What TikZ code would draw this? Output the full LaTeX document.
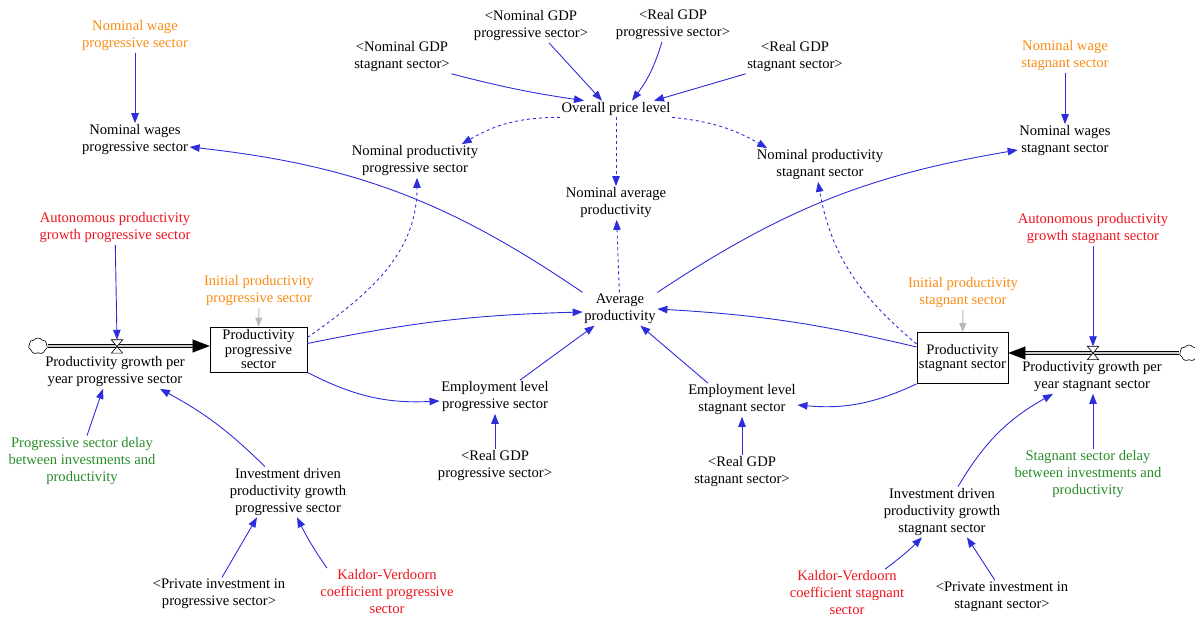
\documentclass[tikz,border=0pt]{standalone}
\usepackage{fontspec}
\setmainfont{Liberation Serif}
\usetikzlibrary{arrows.meta,shapes.symbols}
\definecolor{lnk}{RGB}{45,45,220}
\definecolor{orng}{RGB}{250,140,20}
\definecolor{rd}{RGB}{240,20,30}
\definecolor{grn}{RGB}{40,140,40}
\definecolor{gry}{RGB}{185,185,185}
\begin{document}
\begin{tikzpicture}[x=1pt,y=1pt,
  lbl/.style={align=center, inner sep=1.5pt, font=\fontsize{14.6}{17}\selectfont},
  stock/.style={draw, line width=0.8pt, fill=white, align=center, inner sep=1pt,
    font=\fontsize{14.6}{14.5}\selectfont},
  link/.style={draw=lnk, line width=0.9pt, -{Triangle[length=10pt,width=7.5pt]}, lnk},
  dlink/.style={link, dash pattern=on 3pt off 3pt},
  glink/.style={draw=gry, line width=1pt, -{Triangle[length=9pt,width=7pt]}, gry},
  pipe/.style={draw=black, line width=1.1pt, double=gray!40, double distance=2.6pt},
  flowhead/.style={black, line width=0.1pt, -{Triangle[length=17pt,width=13pt]}},
  cloudy/.style={cloud, draw, cloud puffs=7, cloud puff arc=110, aspect=1.2,
    minimum width=19pt, minimum height=16pt, inner sep=0pt, line width=0.6pt, fill=white},
  valve/.style={minimum width=11pt, minimum height=13pt, inner sep=0pt}
]
\useasboundingbox (0,0) rectangle (1195,-617);

% ---- auxiliary and constant variables ----
\node[lbl, text=orng] (nwageP) at (135,-36) {Nominal wage\\progressive sector};
\node[lbl] (nwagesP) at (135,-140) {Nominal wages\\progressive sector};
\node[lbl] (ngdpS) at (402,-57) {<Nominal GDP\\stagnant sector>};
\node[lbl] (ngdpP) at (531,-26) {<Nominal GDP\\progressive sector>};
\node[lbl] (rgdpP) at (673,-25) {<Real GDP\\progressive sector>};
\node[lbl] (rgdpS) at (795,-57) {<Real GDP\\stagnant sector>};
\node[lbl] (opl) at (616,-109) {Overall price level};
\node[lbl] (nprodP) at (415,-161) {Nominal productivity\\progressive sector};
\node[lbl] (navg) at (616,-203) {Nominal average\\productivity};
\node[lbl] (nprodS) at (820,-165) {Nominal productivity\\stagnant sector};
\node[lbl, text=orng] (nwageS) at (1065,-56) {Nominal wage\\stagnant sector};
\node[lbl] (nwagesS) at (1065,-141) {Nominal wages\\stagnant sector};
\node[lbl, text=rd] (autoP) at (115,-228) {Autonomous productivity\\growth progressive sector};
\node[lbl, text=rd] (autoS) at (1093,-229) {Autonomous productivity\\growth stagnant sector};
\node[lbl, text=orng] (initP) at (259,-291) {Initial productivity\\progressive sector};
\node[lbl, text=orng] (initS) at (963,-293) {Initial productivity\\stagnant sector};
\node[lbl] (avg) at (620,-309) {Average\\productivity};
\node[lbl] (rateP) at (115,-372) {Productivity growth per\\year progressive sector};
\node[lbl] (rateS) at (1092,-377) {Productivity growth per\\year stagnant sector};
\node[lbl] (empP) at (495,-397) {Employment level\\progressive sector};
\node[lbl] (empS) at (742,-400) {Employment level\\stagnant sector};
\node[lbl, text=grn] (delayP) at (82,-461) {Progressive sector delay\\between investments and\\productivity};
\node[lbl] (invP) at (288,-492) {Investment driven\\productivity growth\\progressive sector};
\node[lbl] (rgdpP2) at (495,-466) {<Real GDP\\progressive sector>};
\node[lbl] (rgdpS2) at (742,-472) {<Real GDP\\stagnant sector>};
\node[lbl, text=grn] (delayS) at (1088,-474) {Stagnant sector delay\\between investments and\\productivity};
\node[lbl] (invS) at (942,-512) {Investment driven\\productivity growth\\stagnant sector};
\node[lbl] (privP) at (219,-594) {<Private investment in\\progressive sector>};
\node[lbl, text=rd] (kvP) at (387,-592) {Kaldor-Verdoorn\\coefficient progressive\\sector};
\node[lbl, text=rd] (kvS) at (847,-593) {Kaldor-Verdoorn\\coefficient stagnant\\sector};
\node[lbl] (privS) at (1002,-597) {<Private investment in\\stagnant sector>};

% ---- stocks, sources and valves ----
\node[stock, minimum width=97pt, minimum height=45pt] (stockP) at (258.5,-349.5) {Productivity\\progressive\\sector};
\node[stock, minimum width=91pt, minimum height=51pt] (stockS) at (962.5,-358) {Productivity\\stagnant sector};
\node[cloudy] (cloudP) at (38,-346) {};
\node[cloudy] (cloudS) at (1189,-353) {};
\node[valve] (vP) at (117,-346.5) {};
\node[valve] (vS) at (1093,-353) {};

% flow pipes
\draw[pipe, shorten >=15pt] (cloudP.east) -- (cloudP.east -| stockP.west);
\draw[flowhead] ([xshift=-3pt]cloudP.east -| stockP.west) -- (cloudP.east -| stockP.west);
\draw[pipe, shorten >=15pt] (cloudS.west) -- (cloudS.west -| stockS.east);
\draw[flowhead] ([xshift=3pt]cloudS.west -| stockS.east) -- (cloudS.west -| stockS.east);
\foreach \v in {vP,vS}
  \draw[fill=white, line width=0.6pt] (\v.north west) -- (\v.north east) -- (\v.south west) -- (\v.south east) -- cycle;

% ---- information links ----
\draw[link] (nwageP) -- (nwagesP);
\draw[link] (nwageS) -- (nwagesS);
\draw[link] (ngdpS.south east) to[bend right=3] ([xshift=-32pt]opl.north);
\draw[link] ([xshift=18pt]ngdpP.south) -- ([xshift=-14pt]opl.north);
\draw[link] ([xshift=-11pt]rgdpP.south) to[bend left=10] ([xshift=16pt]opl.north);
\draw[link] (rgdpS.south west) -- ([xshift=38pt]opl.north);

\draw[dlink] (opl.south west) to[bend right=15] ([xshift=-18pt]nprodP.north east);
\draw[dlink] (opl) -- (navg);
\draw[dlink] (opl.south east) to[bend left=12] ([xshift=12pt]nprodS.north west);
\draw[dlink] (avg) -- (navg);

\draw[link] (avg.north west) to[bend right=14] ([yshift=-7pt]nwagesP.east);
\draw[link] (avg.north east) to[bend left=12] ([yshift=-9pt]nwagesS.west);

\draw[dlink] ([yshift=12pt]stockP.east) to[out=35, in=-90] ([xshift=2pt]nprodP.south);
\draw[dlink] ([yshift=14pt]stockS.west) to[out=140, in=-80] ([xshift=-2pt]nprodS.south);

\draw[link] ([yshift=6pt]stockP.east) to[bend left=5] ([yshift=-3pt]avg.west);
\draw[link] ([yshift=11pt]stockS.west) to[bend right=5] (avg.east);
\draw[link] (stockP.south east) to[bend right=15] ([yshift=-4pt]empP.west);
\draw[link] (stockS.south west) to[bend left=15] ([yshift=-5pt]empS.east);
\draw[link] ([xshift=25pt]empP.north) -- ([xshift=12pt]avg.south west);
\draw[link] ([xshift=-34pt]empS.north) -- ([xshift=-17pt]avg.south east);
\draw[link] (rgdpP2) -- (empP);
\draw[link] (rgdpS2) -- (empS);

\draw[glink] (initP) -- (stockP);
\draw[glink] (initS) -- (stockS);

\draw[link] (autoP) -- (vP.north);
\draw[link] (autoS) -- (vS.north);

\draw[link] ([xshift=5pt]delayP.north) -- ([xshift=-12pt]rateP.south);
\draw[link] ([xshift=-23pt]invP.north) to[bend right=8] ([xshift=45pt]rateP.south);
\draw[link] ([xshift=3pt]privP.north) -- ([xshift=-31pt]invP.south);
\draw[link] ([xshift=-60pt]kvP.north) to[bend left=4] ([xshift=9pt]invP.south);
\draw[link] ([xshift=38pt]kvS.north) to[bend right=4] ([xshift=-20pt]invS.south);
\draw[link] ([xshift=-7pt]privS.north) -- ([xshift=25pt]invS.south);
\draw[link] ([xshift=16pt]invS.north) to[bend left=15] ([xshift=-39pt]rateS.south);
\draw[link] ([xshift=5pt]delayS.north) -- ([xshift=1pt]rateS.south);
\end{tikzpicture}
\end{document}
